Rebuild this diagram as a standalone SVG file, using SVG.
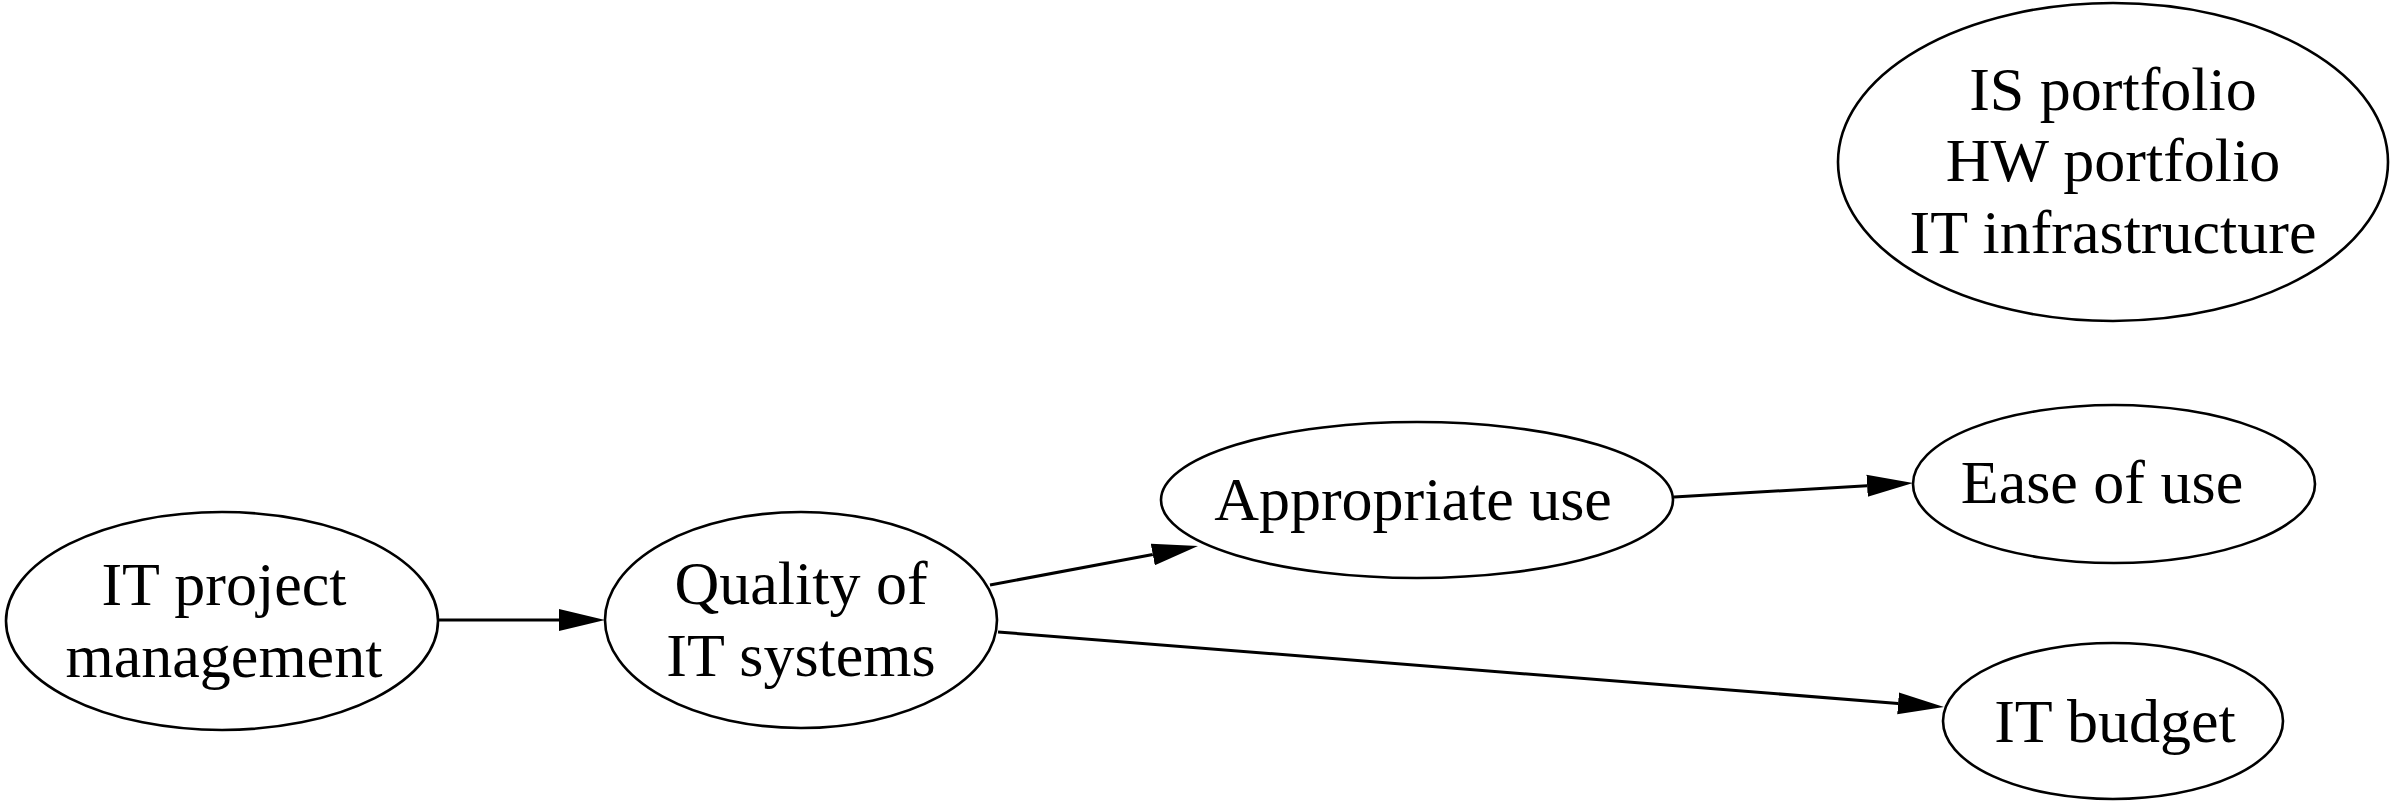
<svg xmlns="http://www.w3.org/2000/svg" width="2396" height="805" viewBox="0 0 2396 805">
  <style>
    .node ellipse { fill: #ffffff; stroke: #000000; stroke-width: 2.6; }
    .node text { font-family: "Liberation Serif", "Times New Roman", serif; font-size: 62px; fill: #000000; text-anchor: middle; }
    .edge { stroke: #000000; stroke-width: 3; fill: none; marker-end: url(#arrow); }
  </style>
  <defs>
    <marker id="arrow" viewBox="0 0 46 24" refX="0" refY="12" markerUnits="userSpaceOnUse" markerWidth="46" markerHeight="24" orient="auto">
      <path d="M0,1 L46,12 L0,23 z" fill="#000000"/>
    </marker>
  </defs>
  <rect x="0" y="0" width="2396" height="805" fill="#ffffff"/>

  <g id="connectors">
    <line class="edge" x1="438" y1="620" x2="559" y2="620"/>
    <line class="edge" x1="990" y1="585" x2="1152.8" y2="554.5"/>
    <line class="edge" x1="1674" y1="497" x2="1867.1" y2="485.7"/>
    <line class="edge" x1="998" y1="632" x2="1898.1" y2="703.4"/>
  </g>

  <g id="node-it-project-management" class="node">
    <ellipse cx="222" cy="621" rx="216" ry="109"/>
    <text x="224" y="605">IT project</text>
    <text x="224" y="677">management</text>
  </g>

  <g id="node-quality-of-it-systems" class="node">
    <ellipse cx="801" cy="620" rx="196" ry="108"/>
    <text x="801" y="604">Quality of</text>
    <text x="801" y="676">IT systems</text>
  </g>

  <g id="node-appropriate-use" class="node">
    <ellipse cx="1417" cy="500" rx="256" ry="78"/>
    <text x="1413" y="520">Appropriate use</text>
  </g>

  <g id="node-ease-of-use" class="node">
    <ellipse cx="2114" cy="484" rx="201" ry="79"/>
    <text x="2102" y="503">Ease of use</text>
  </g>

  <g id="node-it-budget" class="node">
    <ellipse cx="2113" cy="721" rx="170" ry="78"/>
    <text x="2115" y="742">IT budget</text>
  </g>

  <g id="node-portfolio" class="node">
    <ellipse cx="2113" cy="162" rx="275" ry="159"/>
    <text x="2113" y="110">IS portfolio</text>
    <text x="2113" y="181">HW portfolio</text>
    <text x="2113" y="253">IT infrastructure</text>
  </g>
</svg>
